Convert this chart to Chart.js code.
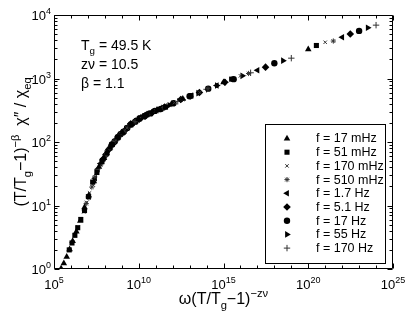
<!DOCTYPE html>
<html lang="en">
<head>
<meta charset="UTF-8">
<title>Dynamic scaling of chi''</title>
<script src="https://cdn.jsdelivr.net/npm/chart.js"></script>
<style>
    html, body { margin: 0; padding: 0; background: white; }
    #wrap { width: 409px; height: 314px; }
</style>
</head>
<body>
<div id="wrap"><canvas id="chart" width="409" height="314"></canvas></div>
<script>
    // one point per temperature in every series
    const seriesLabels = ['f = 17 mHz', 'f = 51 mHz', 'f = 170 mHz', 'f = 510 mHz', 'f = 1.7 Hz',
                          'f = 5.1 Hz', 'f = 17 Hz', 'f = 55 Hz', 'f = 170 Hz'];

    const x17mHz = [1.0e20, 1.0e15, 3.98e12, 1.26e11, 1.0e10, 1.12e9, 2.0e8, 4.47e7, 1.12e7, 3.55e6, 1.26e6, 5.62e5, 2.63e5,
                    3.80e5, 8.32e5, 2.09e6, 6.31e6, 2.24e7, 8.91e7];
    const y17mHz = [2880, 871, 479, 316, 229, 141, 81.3, 40.7, 14.5, 5.75, 2.75, 1.55, 1.02,
                    1.23, 2.04, 3.89, 9.33, 24.0, 56.2];

    const x51mHz = [3.02e20, 3.02e15, 1.20e13, 3.80e11, 3.02e10, 3.39e9, 6.03e8, 1.35e8, 3.39e7, 1.07e7, 3.80e6, 1.70e6, 7.94e5,
                    1.15e6, 2.51e6, 6.31e6, 1.91e7, 6.76e7, 2.69e8];
    const y51mHz = [3310, 977, 537, 355, 269, 186, 120, 67.6, 33.1, 13.8, 6.03, 3.39, 2.00,
                    2.57, 4.47, 8.32, 23.4, 49.0, 91.2];

    const x170mHz = [1.0e21, 1.0e16, 3.98e13, 1.26e12, 1.0e11, 1.12e10, 2.0e9, 4.47e8, 1.12e8, 3.55e7, 1.26e7, 5.62e6, 2.63e6,
                     3.80e6, 8.32e6, 2.09e7, 6.31e7, 2.24e8, 8.91e8];
    const y170mHz = [3720, 1100, 603, 417, 309, 234, 166, 107, 63.1, 35.5, 15.8, 7.94, 4.57,
                     6.03, 11.2, 20.9, 47.9, 85.1, 135];

    const x510mHz = [3.02e21, 3.02e16, 1.20e14, 3.80e12, 3.02e11, 3.39e10, 6.03e9, 1.35e9, 3.39e8, 1.07e8, 3.80e7, 1.70e7, 7.94e6,
                     1.15e7, 2.51e7, 6.31e7, 1.91e8, 6.76e8, 2.69e9];
    const y510mHz = [3890, 1200, 692, 468, 347, 269, 209, 148, 100, 61.7, 37.2, 19.5, 10.7,
                     13.2, 28.2, 46.8, 79.4, 123, 178];

    const x1p7Hz = [1.0e22, 1.0e17, 3.98e14, 1.26e13, 1.0e12, 1.12e11, 2.0e10, 4.47e9, 1.12e9, 3.55e8, 1.26e8, 5.62e7, 2.63e7,
                    3.80e7, 8.32e7, 2.09e8, 6.31e8, 2.24e9, 8.91e9];
    const y1p7Hz = [4470, 1350, 776, 537, 407, 316, 251, 200, 141, 100, 66.1, 45.7, 26.9,
                    37.2, 55.0, 81.3, 120, 174, 224];

    const x5p1Hz = [3.02e22, 3.02e17, 1.20e15, 3.80e13, 3.02e12, 3.39e11, 6.03e10, 1.35e10, 3.39e9, 1.07e9, 3.80e8, 1.70e8, 7.94e7,
                    1.15e8, 2.51e8, 6.31e8, 1.91e9, 6.76e9, 2.69e10];
    const y5p1Hz = [5010, 1510, 871, 603, 468, 355, 288, 240, 191, 141, 102, 75.9, 53.7,
                    63.1, 89.1, 123, 162, 214, 263];

    const x17Hz = [1.0e23, 1.0e18, 3.98e15, 1.26e14, 1.0e13, 1.12e12, 2.0e11, 4.47e10, 1.12e10, 3.55e9, 1.26e9, 5.62e8, 2.63e8,
                   3.80e8, 8.32e8, 2.09e9, 6.31e9, 2.24e10, 8.91e10];
    const y17Hz = [5620, 1740, 977, 692, 525, 407, 331, 282, 234, 191, 145, 117, 91.2,
                   102, 132, 166, 209, 257, 309];

    const x55Hz = [3.24e23, 3.24e18, 1.29e16, 4.07e14, 3.24e13, 3.63e12, 6.46e11, 1.45e11, 3.63e10, 1.15e10, 4.07e9, 1.82e9, 8.51e8,
                   1.23e9, 2.69e9, 6.76e9, 2.04e10, 7.24e10, 2.88e11];
    const y55Hz = [6310, 1910, 1100, 776, 589, 468, 380, 324, 275, 234, 195, 162, 132,
                   138, 178, 214, 251, 295, 347];

    const x170Hz = [1.0e24, 1.0e19, 3.98e16, 1.26e15, 1.0e14, 1.12e13, 2.0e12, 4.47e11, 1.12e11, 3.55e10, 1.26e10, 5.62e9, 2.63e9,
                    3.80e9, 8.32e9, 2.09e10, 6.31e10, 2.24e11, 8.91e11];
    const y170Hz = [6920, 2090, 1230, 871, 676, 525, 437, 363, 316, 275, 234, 204, 178,
                    191, 224, 251, 295, 339, 398];

    const xExponents = [5, 10, 15, 20, 25];
    const yExponents = [0, 1, 2, 3, 4];
    const notes = ['Tg = 49.5 K', 'zν = 10.5', 'β = 1.1'];

    const xSeries = [x17mHz, x51mHz, x170mHz, x510mHz, x1p7Hz, x5p1Hz, x17Hz, x55Hz, x170Hz];
    const ySeries = [y17mHz, y51mHz, y170mHz, y510mHz, y1p7Hz, y5p1Hz, y17Hz, y55Hz, y170Hz];

    // marker look per series (matlab-ish)
    const markers = [
        { pointStyle: 'triangle', radius: 3.8, rotation: 0, borderWidth: 0 },
        { pointStyle: 'rect', radius: 3.6, rotation: 0, borderWidth: 0 },
        { pointStyle: 'crossRot', radius: 2.4, rotation: 0, borderWidth: 1 },
        { pointStyle: 'star', radius: 2.6, rotation: 0, borderWidth: 1 },
        { pointStyle: 'triangle', radius: 3.8, rotation: 270, borderWidth: 0 },
        { pointStyle: 'rectRot', radius: 3.8, rotation: 0, borderWidth: 0 },
        { pointStyle: 'circle', radius: 3.2, rotation: 0, borderWidth: 0 },
        { pointStyle: 'triangle', radius: 3.8, rotation: 90, borderWidth: 0 },
        { pointStyle: 'cross', radius: 3.2, rotation: 0, borderWidth: 1 }
    ];

    const datasets = seriesLabels.map((label, k) => ({
        label: label,
        data: xSeries[k].map((x, i) => ({ x: x, y: ySeries[k][i] })),
        pointStyle: markers[k].pointStyle,
        pointRadius: markers[k].radius,
        pointRotation: markers[k].rotation,
        pointBorderWidth: markers[k].borderWidth,
        backgroundColor: '#000',
        borderColor: markers[k].borderWidth ? '#333' : '#000',
        showLine: false
    }));

    const FONT = '"Liberation Sans", Arial, sans-serif';

    function pow10Label(ctx, e, x, y, align) {
        ctx.font = '13px ' + FONT;
        const w1 = ctx.measureText('10').width;
        ctx.font = '9px ' + FONT;
        const w2 = ctx.measureText(String(e)).width;
        const left = align === 'center' ? x - (w1 + w2) / 2 : x - w1 - w2;
        ctx.textAlign = 'left';
        ctx.textBaseline = 'alphabetic';
        ctx.font = '13px ' + FONT;
        ctx.fillText('10', left, y);
        ctx.font = '9px ' + FONT;
        ctx.fillText(String(e), left + w1, y - 6);
    }

    // segments: [text, 'n' | 'sub' | 'sup']
    function richWidth(ctx, segs, size) {
        let w = 0;
        segs.forEach(s => {
            ctx.font = (s[1] === 'n' ? size : size * 0.7) + 'px ' + FONT;
            w += ctx.measureText(s[0]).width;
        });
        return w;
    }
    function drawRich(ctx, segs, x, y, size) {
        ctx.textAlign = 'left';
        ctx.textBaseline = 'alphabetic';
        let cx = x;
        segs.forEach(s => {
            const small = s[1] !== 'n';
            ctx.font = (small ? size * 0.7 : size) + 'px ' + FONT;
            const dy = s[1] === 'sub' ? size * 0.3 : s[1] === 'sup' ? -size * 0.45 : 0;
            ctx.fillText(s[0], cx, y + dy);
            cx += ctx.measureText(s[0]).width;
        });
    }

    const axesAndLegend = {
        id: 'axesAndLegend',
        afterDatasetsDraw(chart) {
            const ctx = chart.ctx;
            const xs = chart.scales.x, ys = chart.scales.y;
            const a = chart.chartArea;
            const L = Math.round(a.left) + 0.5, R = Math.round(a.right) - 0.5;
            const T = Math.round(a.top) + 0.5, B = Math.round(a.bottom) - 0.5;
            ctx.save();
            ctx.strokeStyle = '#000';
            ctx.fillStyle = '#000';
            ctx.lineWidth = 1;

            ctx.beginPath();
            ctx.rect(L, T, R - L, B - T);
            // x ticks, every decade, inward on top and bottom
            for (let e = 5; e <= 25; e++) {
                const px = Math.round(xs.getPixelForValue(Math.pow(10, e))) + 0.5;
                const len = e % 5 === 0 ? 5 : 3;
                ctx.moveTo(px, B); ctx.lineTo(px, B - len);
                ctx.moveTo(px, T); ctx.lineTo(px, T + len);
            }
            // y ticks with minor 2..9
            for (let e = 0; e <= 4; e++) {
                for (let m = 1; m <= 9; m++) {
                    if (e === 4 && m > 1) break;
                    const py = Math.round(ys.getPixelForValue(m * Math.pow(10, e))) + 0.5;
                    const len = m === 1 ? 5 : 3;
                    ctx.moveTo(L, py); ctx.lineTo(L + len, py);
                    ctx.moveTo(R, py); ctx.lineTo(R - len, py);
                }
            }
            ctx.stroke();

            xExponents.forEach(e => pow10Label(ctx, e, xs.getPixelForValue(Math.pow(10, e)), 289, 'center'));
            yExponents.forEach(e => pow10Label(ctx, e, 51, ys.getPixelForValue(Math.pow(10, e)) + 5, 'right'));

            // x title
            const xt = [['ω(T/T', 'n'], ['g', 'sub'], ['−1)', 'n'], ['−zν', 'sup']];
            const xw = richWidth(ctx, xt, 16);
            drawRich(ctx, xt, (a.left + a.right) / 2 - xw / 2, 304, 16);

            // y title
            const yt = [['(T/T', 'n'], ['g', 'sub'], ['−1)', 'n'], ['−β', 'sup'], ['  χ″ / χ', 'n'], ['eq', 'sub']];
            const yw = richWidth(ctx, yt, 16);
            ctx.save();
            ctx.translate(26, (a.top + a.bottom) / 2);
            ctx.rotate(-Math.PI / 2);
            drawRich(ctx, yt, -yw / 2, 0, 16);
            ctx.restore();

            // parameters
            drawRich(ctx, [['T', 'n'], ['g', 'sub'], [' = 49.5 K', 'n']], 81, 50, 14);
            drawRich(ctx, [[notes[1], 'n']], 81, 69, 14);
            drawRich(ctx, [[notes[2], 'n']], 81, 88, 14);

            // legend box
            const bx = 265.5, by = 124.5, bw = 120, bh = 139;
            ctx.fillStyle = '#fff';
            ctx.fillRect(bx, by, bw, bh);
            ctx.strokeRect(bx, by, bw, bh);
            ctx.font = '12.5px ' + FONT;
            ctx.textBaseline = 'middle';
            ctx.textAlign = 'left';
            seriesLabels.forEach((label, k) => {
                const ry = by + 14 + k * 13.7;
                ctx.fillStyle = '#000';
                ctx.strokeStyle = markers[k].borderWidth ? '#333' : '#000';
                Chart.helpers.drawPoint(ctx, {
                    pointStyle: markers[k].pointStyle,
                    radius: markers[k].radius,
                    rotation: markers[k].rotation,
                    borderWidth: markers[k].borderWidth
                }, 287, ry);
                ctx.fillStyle = '#000';
                ctx.fillText(label, 316, ry + 0.5);
            });
            ctx.restore();
        }
    };

    new Chart(document.getElementById('chart'), {
        type: 'scatter',
        data: { datasets: datasets },
        options: {
            responsive: false,
            animation: false,
            devicePixelRatio: 1,
            layout: { padding: { left: 54, right: 16, top: 15, bottom: 45 } },
            plugins: { legend: { display: false }, tooltip: { enabled: false } },
            scales: {
                x: { type: 'logarithmic', min: 1e5, max: 1e25, display: false },
                y: { type: 'logarithmic', min: 1, max: 1e4, display: false }
            }
        },
        plugins: [axesAndLegend]
    });
</script>
</body>
</html>
